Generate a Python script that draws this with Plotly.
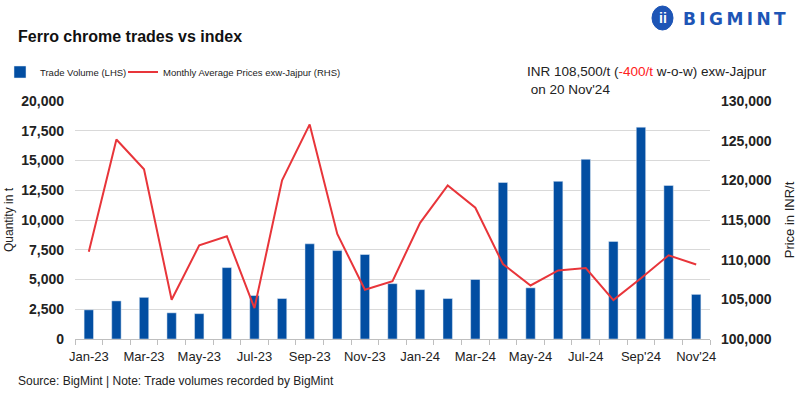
import plotly.graph_objects as go

months = ["Jan-23", "Feb-23", "Mar-23", "Apr-23", "May-23", "Jun-23", "Jul-23", "Aug-23",
          "Sep-23", "Oct-23", "Nov-23", "Dec-23", "Jan-24", "Feb-24", "Mar-24", "Apr-24",
          "May-24", "Jun-24", "Jul-24", "Aug-24", "Sep'24", "Oct'24", "Nov'24"]
trade_volume = [2450, 3200, 3500, 2200, 2130, 6000, 3650, 3400, 8000, 7430, 7100, 4650,
                4150, 3400, 5000, 13150, 4300, 13250, 15100, 8200, 17800, 12900, 3750]
avg_price = [111000, 125150, 121400, 104950, 111800, 112950, 103900, 120000, 127050, 113250,
             106200, 107300, 114650, 119350, 116550, 109450, 106750, 108650, 108950, 104900,
             107650, 110550, 109400]

xpos = list(range(len(months)))

FONT = "Liberation Sans, Arial, sans-serif"

W, H = 800, 398
L, R, T, B = 75, 90, 101, 59
PW, PH = W - L - R, H - T - B


def px_x(x):
    return (x - L) / PW


def px_y(y):
    return (H - B - y) / PH


fig = go.Figure()
fig.add_trace(go.Bar(x=xpos, y=trade_volume, name="Trade Volume (LHS)",
                     marker_color="#024ea2", width=0.34, yaxis="y", legend="legend"))
fig.add_trace(go.Scatter(x=xpos, y=avg_price, name="Monthly Average Prices exw-Jajpur (RHS)",
                         mode="lines", line=dict(color="#e8353a", width=2), yaxis="y2",
                         legend="legend2"))

legend_common = dict(orientation="h", xref="container", yref="container",
                     xanchor="left", y=1 - 72 / H, yanchor="middle",
                     font=dict(family=FONT, size=9.5, color="#222222"),
                     bgcolor="rgba(0,0,0,0)")

fig.update_layout(
    width=W, height=H,
    margin=dict(l=L, r=R, t=T, b=B, autoexpand=False),
    paper_bgcolor="white", plot_bgcolor="white",
    font=dict(family=FONT, color="#222222"),
    showlegend=True,
    legend=dict(x=0, **legend_common),
    legend2=dict(x=123 / W, **legend_common),
    xaxis=dict(range=[-0.5, len(months) - 0.5], tickmode="array",
               tickvals=xpos[::2], ticktext=months[::2], ticks="",
               tickfont=dict(size=13, color="#222222"), ticklabelstandoff=5,
               showline=True, linecolor="#bfbfbf", linewidth=1, showgrid=False, zeroline=False,
               automargin=False,
               minor=dict(tickmode="linear", tick0=-0.5, dtick=1, ticks="outside",
                          ticklen=5, tickcolor="#bfbfbf", showgrid=False)),
    yaxis=dict(range=[0, 20000], dtick=2500, tickformat=",", showgrid=True,
               gridcolor="#d9d9d9", gridwidth=1, zeroline=False, showline=False,
               automargin=False, ticklabelstandoff=10,
               tickfont=dict(size=14, color="#222222", weight="bold"),
               title=dict(text="Quantity in t", font=dict(family=FONT, size=12, color="#222222"),
                          standoff=4)),
    yaxis2=dict(range=[100000, 130000], dtick=5000, tickformat=",", overlaying="y", side="right",
                showgrid=False, zeroline=False, showline=False,
                automargin=False, ticklabelstandoff=10,
                tickfont=dict(size=14, color="#222222", weight="bold"),
                title=dict(text="Price in INR/t", font=dict(family=FONT, size=13, color="#222222"),
                           standoff=14)),
)

# Title
fig.add_annotation(text="<b>Ferro chrome trades vs index</b>", xref="paper", yref="paper",
                   x=px_x(16), y=px_y(36), xanchor="left", yanchor="middle", showarrow=False,
                   font=dict(family=FONT, size=16, color="#111111"))

# Price note
fig.add_annotation(text="INR 108,500/t (<span style='color:#ff2020'>-400/t</span> w-o-w) exw-Jajpur<br>&nbsp;on 20 Nov'24",
                   xref="paper", yref="paper", x=px_x(525), y=px_y(62), xanchor="left", yanchor="top",
                   align="left", showarrow=False,
                   font=dict(family=FONT, size=13.5, color="#222222"))

# Source
fig.add_annotation(text="Source: BigMint | Note: Trade volumes recorded by BigMint",
                   xref="paper", yref="paper", x=px_x(16), y=px_y(381), xanchor="left", yanchor="middle",
                   showarrow=False, font=dict(family=FONT, size=12, color="#222222"))

# Logo
fig.add_shape(type="circle", xref="paper", yref="paper",
              x0=px_x(652), x1=px_x(673), y0=px_y(30), y1=px_y(6),
              fillcolor="#1d55b6", line=dict(color="#1d55b6", width=1))
fig.add_annotation(text="<b>ii</b>", xref="paper", yref="paper",
                   x=px_x(662.5), y=px_y(18), xanchor="center", yanchor="middle",
                   showarrow=False, font=dict(family=FONT, size=14, color="white"))
fig.add_annotation(text="<b>B\u2009I\u2009G\u2009M\u2009I\u2009N\u2009T</b>", xref="paper", yref="paper",
                   x=px_x(681), y=px_y(19), xanchor="left", yanchor="middle",
                   showarrow=False, font=dict(family="DejaVu Sans, sans-serif", size=17, color="#1d55b6"))

fig.write_html("out.html", config={"displayModeBar": False},
               post_script="document.body.style.margin='0';document.body.style.padding='0';")
